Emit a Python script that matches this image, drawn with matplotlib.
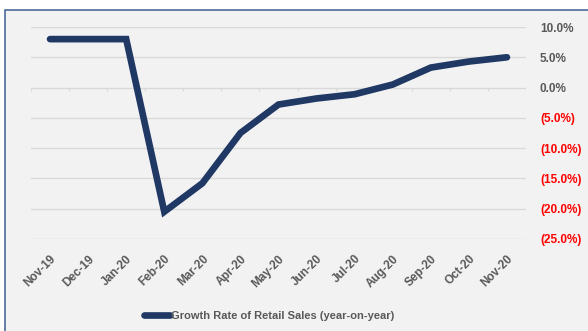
import matplotlib.pyplot as plt
from matplotlib.patches import Rectangle
from matplotlib.ticker import FuncFormatter
import numpy as np

# --- DATA ---
MONTHS = ['Nov-19', 'Dec-19', 'Jan-20', 'Feb-20', 'Mar-20', 'Apr-20', 'May-20',
          'Jun-20', 'Jul-20', 'Aug-20', 'Sep-20', 'Oct-20', 'Nov-20']
RETAIL_GROWTH = [8.0, 8.0, 8.0, -20.5, -15.8, -7.5, -2.8,
                 -1.8, -1.1, 0.5, 3.3, 4.3, 5.0]
Y_TICKS = [10, 5, 0, -5, -10, -15, -20, -25]
SERIES_LABEL = 'Growth Rate of Retail Sales (year-on-year)'
# ------------

LINE_COLOR = '#1F3864'
TEXT_GRAY = '#595959'
GRID_COLOR = '#D9D9D9'
BG_COLOR = '#F2F2F2'

plt.rcParams['font.family'] = ['Liberation Sans', 'DejaVu Sans']

W, H = 588, 331
fig = plt.figure(figsize=(W / 100, H / 100), dpi=100)
fig.patch.set_facecolor('white')

# chart frame (clipped at the right and bottom edges)
fig.patches.append(Rectangle((5 / W, -0.1), 1.2, (H - 10) / H + 0.1,
                             transform=fig.transFigure, facecolor=BG_COLOR,
                             edgecolor='#4A6A9A', linewidth=1.2, zorder=-5))

ax = fig.add_axes([31 / W, (H - 239) / H, 495 / W, 212 / H])
ax.set_facecolor('none')
ax.set_zorder(2)

x = np.arange(len(MONTHS))
ax.plot(x, RETAIL_GROWTH, color=LINE_COLOR, linewidth=4.8,
        solid_capstyle='round', solid_joinstyle='miter', label=SERIES_LABEL,
        zorder=3)

ax.set_xlim(-0.5, len(MONTHS) - 0.5)
ax.set_ylim(min(Y_TICKS), max(Y_TICKS))

# horizontal gridlines, zero line acts as the category axis
for y in Y_TICKS:
    ax.axhline(y, color=GRID_COLOR, linewidth=1.0, zorder=1)
bounds = np.arange(len(MONTHS) + 1) - 0.5
ax.vlines(bounds, -0.55, 0, color=GRID_COLOR, linewidth=1.0, zorder=1)

for s in ax.spines.values():
    s.set_visible(False)

ax.set_xticks(x)
ax.set_xticklabels(MONTHS, rotation=45, ha='right', rotation_mode='anchor',
                   fontsize=8.5, fontweight='bold', color=TEXT_GRAY)
ax.tick_params(axis='x', length=0, pad=10)

ax.yaxis.tick_right()
ax.set_yticks(Y_TICKS)
ax.yaxis.set_major_formatter(FuncFormatter(
    lambda v, p: f'{v:.1f}%' if v >= 0 else f'({abs(v):.1f}%)'))
ax.tick_params(axis='y', length=0, pad=10, labelsize=8.5)
for lab, v in zip(ax.get_yticklabels(), Y_TICKS):
    lab.set_fontweight('bold')
    lab.set_color(TEXT_GRAY if v >= 0 else '#FF0000')

handles, labels = ax.get_legend_handles_labels()
leg = fig.legend(handles, labels, loc='center', bbox_to_anchor=(269 / W, 1 - 316 / H),
                 frameon=False, fontsize=8, handlelength=2.3, handletextpad=0.1)
for t in leg.get_texts():
    t.set_fontweight('bold')
    t.set_color(TEXT_GRAY)

fig.savefig('out.png', dpi=100, facecolor=fig.get_facecolor())
